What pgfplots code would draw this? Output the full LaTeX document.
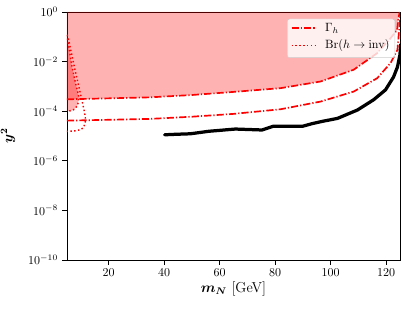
\documentclass[border=0pt]{standalone}
\usepackage{amsmath}
\usepackage{pgfplots}
\pgfplotsset{compat=1.18}
\begin{document}
\begin{tikzpicture}
\begin{axis}[
  scale only axis,
  width=277.5pt, height=206.7pt,
  ymode=log,
  xmin=5, xmax=125, ymin=1e-10, ymax=1,
  xtick={20,40,60,80,100,120},
  ytick={1e-10,1e-8,1e-6,1e-4,1e-2,1},
  yminorticks=false,
  tick align=outside, tick pos=left,
  major tick length=4pt,
  axis line style={line width=0.7pt},
  tick style={black, line width=0.7pt},
  xlabel={\large $\boldsymbol{m_N}$ [GeV]},
  ylabel={\large $\boldsymbol{y^2}$},
  xlabel style={yshift=3pt},
  ylabel style={yshift=4pt},
]
% filled region above Gamma_h
\addplot[draw=none, fill=red, fill opacity=0.3] coordinates {
 (5,3.02e-4) (20,3.3e-4) (35,3.63e-4) (50,4.5e-4) (65,6.0e-4) (82,8.51e-4)
 (96.4,1.58e-3) (108.3,4.68e-3) (116.8,2.19e-2) (121.6,8.71e-2) (124.0,0.19)
 (124.4,0.48) (124.9,1) (5,1)};
\addplot[red, line width=1.4pt, dash pattern=on 6pt off 1.7pt on 1pt off 1.7pt] coordinates {
 (5,3.02e-4) (20,3.3e-4) (35,3.63e-4) (50,4.5e-4) (65,6.0e-4) (82,8.51e-4)
 (96.4,1.58e-3) (108.3,4.68e-3) (116.8,2.19e-2) (121.6,8.71e-2) (124.0,0.19)
 (124.4,0.48) (124.9,1)};
\addplot[red, line width=1.4pt, dash pattern=on 6pt off 1.7pt on 1pt off 1.7pt] coordinates {
 (5,4.17e-5) (20,4.5e-5) (35,4.9e-5) (50,6.0e-5) (65,7.8e-5) (82,1.20e-4)
 (96.4,2.45e-4) (108.3,6.17e-4) (116.8,2.14e-3) (121.6,8.71e-3) (124.1,2.95e-2)
 (125.2,0.8)};
% Br(h -> inv)
\addplot[draw=none, fill=red, fill opacity=0.3, smooth] coordinates {
 (5,0.12) (5.9,2.75e-2) (6.82,6.3e-3) (8.37,1.0e-3) (9.2,4.0e-4) (8.84,1.82e-4)
 (7.39,1.15e-4) (5,9.8e-5)};
\addplot[red, line width=1.2pt, dash pattern=on 1.2pt off 2pt, smooth] coordinates {
 (5,0.12) (5.9,2.75e-2) (6.82,6.3e-3) (8.37,1.0e-3) (9.2,4.0e-4) (8.84,1.82e-4)
 (7.39,1.15e-4) (5,9.8e-5)};
\addplot[red, line width=1.2pt, dash pattern=on 1.2pt off 2pt, smooth] coordinates {
 (5,0.12) (5.59,7.6e-2) (7.65,6.3e-3) (9.81,5.4e-4) (11.36,8.5e-5) (11.61,3.9e-5)
 (10.78,2.09e-5) (8.62,1.66e-5) (5.59,1.55e-5) (5,1.55e-5)};
% black curve
\addplot[black, line width=2.7pt, line join=round, line cap=round] coordinates {
 (40.2,1.12e-5) (44,1.17e-5) (49.5,1.23e-5) (56.1,1.55e-5) (65.7,1.91e-5)
 (75.3,1.75e-5) (79.5,2.5e-5) (89.8,2.45e-5) (93.4,3.16e-5) (97.0,3.89e-5)
 (102.5,5.13e-5) (109.7,1.12e-4) (115.5,2.88e-4) (119.8,7.24e-4) (122.7,2.40e-3)
 (124.1,6.03e-3) (125.0,1.86e-2) (125.3,5e-2)};
% legend (drawn by hand)
\draw[black!20, fill=white, fill opacity=0.8, rounded corners=2pt]
  (rel axis cs:0.6616,0.8157) rectangle (rel axis cs:0.985,0.9718);
\draw[red, line width=1.4pt, dash pattern=on 6pt off 1.7pt on 1pt off 1.7pt]
  (rel axis cs:0.6748,0.9343) -- (rel axis cs:0.7447,0.9343);
\draw[red, line width=1.2pt, dash pattern=on 1.2pt off 2pt]
  (rel axis cs:0.6748,0.8641) -- (rel axis cs:0.7447,0.8641);
\node[anchor=west, inner sep=0pt] at (rel axis cs:0.7748,0.9343) {$\Gamma_h$};
\node[anchor=west, inner sep=0pt] at (rel axis cs:0.7748,0.8641) {$\mathrm{Br}(h\to\mathrm{inv})$};
\end{axis}
\pgfresetboundingbox
\path (current axis.south west) ++(-55.8pt,-40pt) rectangle ++(339.2pt,256.7pt);
\end{tikzpicture}
\end{document}
